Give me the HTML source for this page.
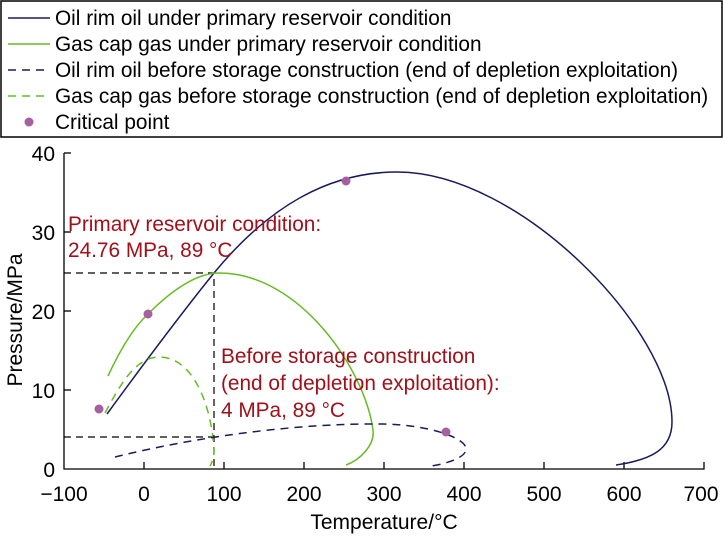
<!DOCTYPE html>
<html><head><meta charset="utf-8"><style>
html,body{margin:0;padding:0;background:#fff;}
svg{display:block;font-family:"Liberation Sans",Arial,sans-serif;}
</style></head><body>
<svg width="724" height="536" viewBox="0 0 724 536" xmlns="http://www.w3.org/2000/svg">
<rect x="1" y="1" width="721" height="136" fill="#fff" stroke="#000" stroke-width="1.5"/>
<g font-size="20.8" fill="#000">
<line x1="8" y1="18" x2="50" y2="18" stroke="#1a1a5e" stroke-width="1.5"/>
<text x="55" y="25">Oil rim oil under primary reservoir condition</text>
<line x1="8" y1="44" x2="50" y2="44" stroke="#66bb22" stroke-width="1.5"/>
<text x="55" y="51">Gas cap gas under primary reservoir condition</text>
<line x1="8" y1="70" x2="50" y2="70" stroke="#1a1a5e" stroke-width="1.5" stroke-dasharray="8,6"/>
<text x="55" y="77">Oil rim oil before storage construction (end of depletion exploitation)</text>
<line x1="8" y1="96" x2="50" y2="96" stroke="#66bb22" stroke-width="1.5" stroke-dasharray="8,6"/>
<text x="55" y="103">Gas cap gas before storage construction (end of depletion exploitation)</text>
<circle cx="29" cy="122" r="4.5" fill="#a65fa0"/>
<text x="55" y="129">Critical point</text>
</g>
<g stroke="#000" stroke-width="1.3" fill="none">
<polyline points="64,153 64,469 704,469 704,462"/>
<line x1="64" y1="153" x2="71" y2="153"/>
<line x1="64" y1="232" x2="71" y2="232"/>
<line x1="64" y1="311" x2="71" y2="311"/>
<line x1="64" y1="390" x2="71" y2="390"/>
<line x1="144" y1="469" x2="144" y2="462"/>
<line x1="224" y1="469" x2="224" y2="462"/>
<line x1="304" y1="469" x2="304" y2="462"/>
<line x1="384" y1="469" x2="384" y2="462"/>
<line x1="464" y1="469" x2="464" y2="462"/>
<line x1="544" y1="469" x2="544" y2="462"/>
<line x1="624" y1="469" x2="624" y2="462"/>
</g>
<g font-size="21" fill="#000" text-anchor="end">
<text x="55" y="161">40</text><text x="55" y="240">30</text><text x="55" y="319">20</text><text x="55" y="398">10</text><text x="55" y="477">0</text>
</g>
<g font-size="21" fill="#000" text-anchor="middle">
<text x="64" y="501">−100</text><text x="144" y="501">0</text><text x="224" y="501">100</text><text x="304" y="501">200</text><text x="384" y="501">300</text><text x="464" y="501">400</text><text x="544" y="501">500</text><text x="624" y="501">600</text><text x="701" y="501">700</text>
<text x="384" y="529">Temperature/°C</text>
<text transform="translate(22,320) rotate(-90)">Pressure/MPa</text>
</g>
<g stroke="#000" stroke-width="1.2" stroke-dasharray="7,5" fill="none">
<polyline points="64,273 214,273 214,469"/>
<line x1="64" y1="437" x2="214" y2="437"/>
</g>
<g fill="none" stroke-width="1.5">
<path d="M107,414 C145,362 180,315 214,273 C270,205 330,172 397,172 C520,172 672,330 672,422 C672,450 650,460 616,465" stroke="#1a1a5e"/>
<path d="M108,376 C120,350 133,328 148,314 C170,292 195,273 219,273 C300,273 365,370 373,430 C375,445 360,460 346,465" stroke="#66bb22"/>
<path d="M105,413 C120,385 135,358 158,357 C195,356 212,410 214,450 C214,458 212,463 210,466" stroke="#66bb22" stroke-dasharray="8,6"/>
<path d="M115,457 C200,436 300,423 383,424 C430,425 466,438 466,449 C466,458 445,464 431,466" stroke="#1a1a5e" stroke-dasharray="8,6"/>
</g>
<g fill="#a65fa0">
<circle cx="99" cy="409" r="4.5"/><circle cx="148" cy="314" r="4.5"/><circle cx="346" cy="181" r="4.5"/><circle cx="446" cy="432" r="4.5"/>
</g>
<g font-size="20.8" fill="#a0101a">
<text x="68" y="231">Primary reservoir condition:</text>
<text x="68" y="257">24.76 MPa, 89 °C</text>
<text x="221" y="363">Before storage construction</text>
<text x="221" y="390">(end of depletion exploitation):</text>
<text x="221" y="417">4 MPa, 89 °C</text>
</g>
</svg>
</body></html>
